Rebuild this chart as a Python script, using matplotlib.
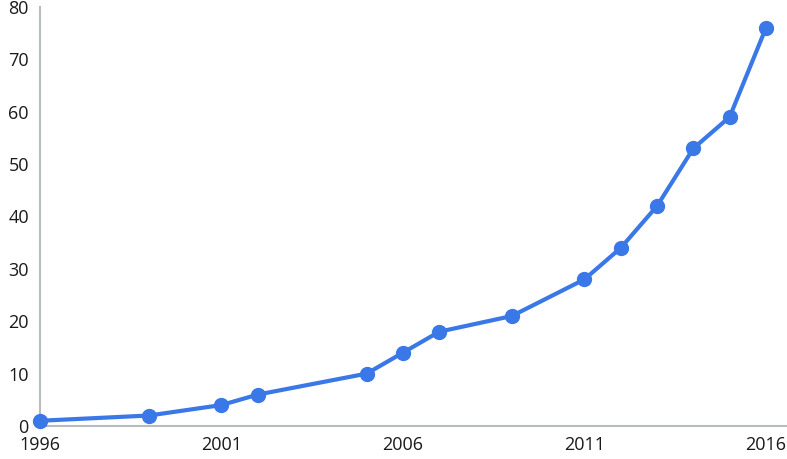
import matplotlib
matplotlib.use("Agg")
import matplotlib.pyplot as plt

years = [1996, 1999, 2001, 2002, 2005, 2006, 2007, 2009, 2011, 2012, 2013, 2014, 2015, 2016]
counts = [1, 2, 4, 6, 10, 14, 18, 21, 28, 34, 42, 53, 59, 76]
x_ticks = [1996, 2001, 2006, 2011, 2016]
y_ticks = [0, 10, 20, 30, 40, 50, 60, 70, 80]

plt.rcParams['font.family'] = ['Open Sans', 'DejaVu Sans']

fig = plt.figure(figsize=(7.87, 4.59), dpi=100)
ax = fig.add_axes([0.0508, 0.0719, 0.9492, 0.9129])

ax.plot(years, counts, color='#3b78e7', linewidth=3, marker='o', markersize=10, clip_on=False, zorder=3)

ax.set_xlim(1996, 2016.58)
ax.set_ylim(0, 80)
ax.set_xticks(x_ticks)
ax.set_yticks(y_ticks)
ax.tick_params(axis='both', length=0, labelsize=13, colors='#1a1a1a')
ax.tick_params(axis='x', pad=7)
ax.tick_params(axis='y', pad=8)

for side in ['top', 'right']:
    ax.spines[side].set_visible(False)
for side in ['left', 'bottom']:
    ax.spines[side].set_color('#b8bcbc')
    ax.spines[side].set_linewidth(1.5)

fig.savefig('out.png', dpi=100)
